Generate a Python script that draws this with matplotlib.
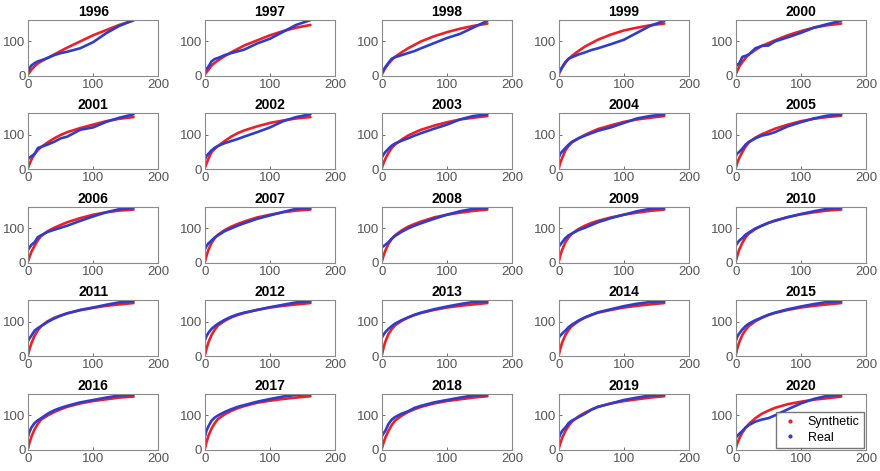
import matplotlib
matplotlib.use("Agg")
import matplotlib.pyplot as plt
from matplotlib.lines import Line2D

plt.rcParams['font.family'] = ['Liberation Sans', 'DejaVu Sans']

years = list(range(1996, 2021))

# sample positions along the x axis shared by every curve
grid_x = [0, 2, 5, 10, 15, 20, 30, 40, 50, 60, 80, 100, 120, 140, 162]

synthetic = {
    1996: [5, 10, 18, 28, 36, 42, 52, 62, 72, 82, 100, 118, 133, 148, 161],
    1997: [5, 10, 17, 30, 38, 45, 57, 68, 78, 88, 103, 118, 130, 140, 148],
    1998: [5, 12, 22, 35, 46, 55, 68, 80, 90, 100, 115, 127, 137, 145, 152],
    1999: [5, 13, 24, 38, 49, 58, 72, 85, 95, 105, 120, 132, 140, 147, 152],
    2000: [5, 14, 26, 40, 52, 62, 75, 87, 95, 103, 118, 130, 140, 147, 152],
    2001: [5, 15, 28, 45, 56, 65, 78, 90, 100, 108, 120, 130, 140, 147, 152],
    2002: [5, 16, 30, 50, 60, 68, 82, 95, 105, 113, 125, 135, 142, 148, 152],
    2003: [5, 16, 30, 48, 62, 72, 86, 98, 107, 115, 127, 137, 145, 150, 155],
    2004: [5, 18, 33, 55, 68, 78, 90, 100, 109, 117, 128, 138, 145, 150, 155],
    2005: [5, 17, 32, 50, 66, 78, 92, 102, 110, 118, 130, 140, 147, 152, 156],
    2006: [5, 17, 32, 50, 66, 78, 92, 102, 110, 118, 130, 140, 147, 152, 155],
    2007: [5, 19, 37, 58, 72, 82, 95, 105, 113, 120, 132, 140, 147, 152, 155],
    2008: [5, 18, 35, 55, 70, 80, 94, 105, 113, 120, 132, 140, 146, 151, 155],
    2009: [5, 20, 38, 60, 74, 85, 98, 108, 116, 122, 132, 140, 146, 151, 155],
    2010: [5, 19, 37, 58, 74, 85, 98, 108, 116, 123, 133, 141, 147, 152, 155],
    2011: [5, 20, 38, 60, 76, 88, 102, 112, 119, 125, 134, 141, 147, 151, 155],
    2012: [5, 21, 40, 62, 78, 90, 103, 113, 120, 126, 135, 142, 147, 151, 155],
    2013: [5, 22, 42, 65, 79, 90, 103, 113, 120, 126, 135, 142, 147, 151, 155],
    2014: [5, 21, 40, 62, 77, 88, 102, 113, 120, 127, 135, 142, 147, 151, 155],
    2015: [5, 21, 40, 62, 77, 88, 102, 112, 120, 126, 135, 142, 147, 151, 155],
    2016: [5, 20, 38, 60, 76, 88, 100, 110, 118, 125, 135, 142, 147, 152, 155],
    2017: [5, 21, 40, 62, 78, 90, 103, 113, 121, 127, 137, 143, 148, 152, 156],
    2018: [5, 18, 35, 55, 72, 85, 99, 110, 118, 125, 135, 142, 147, 152, 156],
    2019: [5, 18, 35, 55, 70, 82, 97, 108, 117, 125, 135, 142, 147, 152, 156],
    2020: [5, 17, 32, 50, 64, 75, 92, 105, 114, 122, 133, 140, 146, 150, 155],
}

real = {
    1996: [12, 22, 30, 37, 42, 45, 52, 60, 66, 70, 80, 98, 124, 145, 162],
    1997: [15, 20, 26, 42, 49, 52, 60, 66, 71, 76, 94, 108, 128, 148, 162],
    1998: [10, 16, 25, 38, 50, 54, 60, 66, 72, 80, 95, 110, 122, 140, 160],
    1999: [10, 16, 25, 40, 50, 54, 62, 68, 75, 80, 92, 105, 125, 145, 160],
    2000: [28, 32, 35, 55, 58, 62, 80, 87, 88, 100, 112, 125, 140, 150, 160],
    2001: [30, 34, 38, 45, 62, 65, 72, 80, 90, 95, 115, 122, 138, 150, 160],
    2002: [30, 38, 45, 55, 63, 68, 76, 82, 88, 95, 108, 122, 140, 152, 160],
    2003: [35, 42, 50, 60, 69, 75, 83, 90, 98, 105, 118, 130, 145, 155, 160],
    2004: [35, 45, 52, 62, 72, 80, 90, 98, 105, 112, 122, 135, 148, 155, 160],
    2005: [38, 46, 50, 60, 72, 80, 90, 98, 102, 108, 125, 137, 148, 156, 160],
    2006: [38, 44, 52, 60, 75, 80, 90, 96, 102, 108, 122, 135, 147, 156, 160],
    2007: [40, 48, 56, 65, 74, 80, 92, 100, 108, 115, 128, 138, 148, 157, 160],
    2008: [45, 48, 52, 60, 70, 78, 90, 100, 108, 115, 128, 140, 150, 157, 160],
    2009: [48, 52, 60, 72, 80, 85, 95, 102, 110, 118, 130, 140, 150, 157, 160],
    2010: [50, 56, 64, 72, 82, 88, 100, 108, 116, 122, 133, 142, 150, 157, 160],
    2011: [45, 52, 60, 75, 82, 88, 100, 110, 118, 125, 135, 142, 150, 157, 160],
    2012: [48, 58, 68, 80, 88, 95, 106, 115, 122, 127, 135, 143, 150, 157, 160],
    2013: [55, 62, 70, 80, 88, 95, 105, 113, 121, 127, 137, 145, 152, 158, 160],
    2014: [55, 60, 66, 75, 85, 92, 104, 113, 121, 128, 137, 146, 153, 158, 160],
    2015: [45, 56, 66, 78, 88, 95, 105, 113, 121, 127, 137, 145, 152, 158, 160],
    2016: [40, 52, 65, 78, 86, 92, 105, 115, 122, 128, 138, 145, 152, 158, 160],
    2017: [40, 55, 68, 85, 94, 100, 110, 118, 125, 130, 140, 148, 155, 160, 162],
    2018: [40, 47, 55, 75, 88, 95, 105, 112, 122, 128, 138, 145, 152, 158, 160],
    2019: [35, 45, 55, 65, 78, 85, 95, 105, 117, 125, 135, 145, 152, 158, 160],
    2020: [35, 40, 46, 55, 65, 72, 82, 88, 92, 100, 118, 135, 148, 157, 160],
}

red = '#ec2027'
blue = '#2e3dcc'

fig, axes = plt.subplots(5, 5, figsize=(8.8, 4.71), dpi=100)
fig.subplots_adjust(left=0.032, right=0.984, top=0.958, bottom=0.045,
                    wspace=0.36, hspace=0.67)

for ax, yr in zip(axes.flat, years):
    ax.plot(grid_x, synthetic[yr], color=red, lw=1.9, solid_capstyle='round')
    ax.plot(grid_x, real[yr], color=blue, lw=1.9, solid_capstyle='round')
    ax.set_xlim(0, 200)
    ax.set_ylim(0, 163)
    ax.set_xticks([0, 100, 200])
    ax.set_yticks([0, 100])
    ax.set_title(str(yr), fontsize=10, fontweight='bold', pad=3)
    ax.tick_params(direction='in', length=2.5, width=0.6, labelsize=9.5,
                   colors='#555555', pad=2)
    for s in ax.spines.values():
        s.set_color('#8a8a8a')
        s.set_linewidth(0.8)

handles = [Line2D([], [], color=red, marker='.', ls='none', markersize=4, label='Synthetic'),
           Line2D([], [], color=blue, marker='.', ls='none', markersize=4, label='Real')]
axes[-1, -1].legend(handles=handles, loc='lower right', fontsize=9,
                    frameon=True, fancybox=False, edgecolor='#555555',
                    handlelength=1.6, handletextpad=0.6, borderpad=0.35,
                    labelspacing=0.25, borderaxespad=0.15)

fig.savefig('out.png', dpi=100)
